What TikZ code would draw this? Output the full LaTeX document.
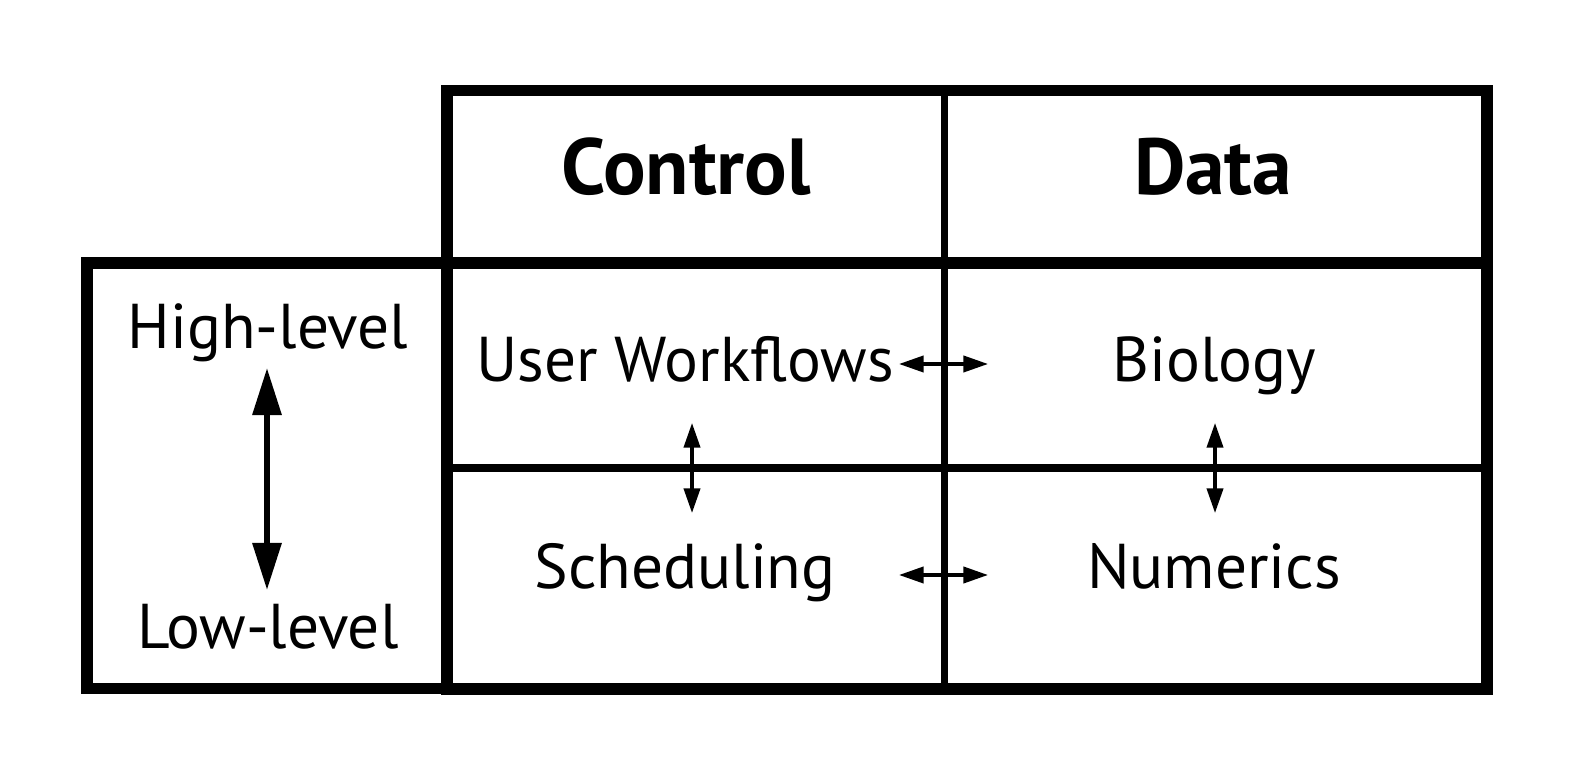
\documentclass[tikz,border=0pt]{standalone}
\usepackage{fontspec}
\setmainfont{PT Sans}
\usetikzlibrary{arrows.meta}
\tikzset{
  frameline/.style={line width=3.27pt},
  gridline/.style={line width=2pt},
  headtext/.style={anchor=base, inner sep=0pt, font=\fontsize{22.6pt}{24pt}\selectfont\bfseries},
  celltext/.style={anchor=base, inner sep=0pt, font=\fontsize{18pt}{20pt}\selectfont},
  bigarrow/.style={line width=1.7pt, {Triangle[length=13.4pt,width=8pt]}-{Triangle[length=13.4pt,width=8pt]}},
  smallarrow/.style={line width=0.95pt, {Triangle[length=7pt,width=4.6pt]}-{Triangle[length=7pt,width=4.6pt]}}
}
\begin{document}
\begin{tikzpicture}[x=0.01cm, y=-0.01cm]
			%%%%% START %%%%%
			\useasboundingbox (0, 0) rectangle (1583, 783);
			
			% frames
			\draw[frameline] (87, 263) rectangle (447, 688.5);
			\draw[frameline] (447, 90.5) rectangle (1487, 689);
			\draw[frameline] (447, 263) -- (1487, 263);
			\draw[gridline] (944.5, 90.5) -- (944.5, 689);
			\draw[gridline] (447, 468) -- (1487, 468);
			
			% headers
			\node[headtext] (control) at (686, 195) {Control};
			\node[headtext] (data) at (1213, 195) {Data};
			
			% levels
			\node[celltext] (high) at (268, 349) {High-level};
			\node[celltext] (low) at (268, 648) {Low-level};
			\coordinate (highend) at (267, 368);
			\coordinate (lowend) at (267, 590);
			\draw[bigarrow] (highend) -- (lowend);
			
			% cells
			\node[celltext] (workflows) at (685, 382) {User Workflows};
			\node[celltext] (biology) at (1214, 382) {Biology};
			\node[celltext] (scheduling) at (685, 589) {Scheduling};
			\node[celltext] (numerics) at (1214, 589) {Numerics};
			
			\coordinate (wfright) at (899, 364);
			\coordinate (bioleft) at (988, 364);
			\coordinate (schright) at (899, 575);
			\coordinate (numleft) at (988, 575);
			\coordinate (wfbelow) at (692, 423);
			\coordinate (schabove) at (692, 513);
			\coordinate (biobelow) at (1215, 423);
			\coordinate (numabove) at (1215, 513);
			
			\draw[smallarrow] (wfright) -- (bioleft);
			\draw[smallarrow] (schright) -- (numleft);
			\draw[smallarrow] (wfbelow) -- (schabove);
			\draw[smallarrow] (biobelow) -- (numabove);
			
			%%%%% END %%%%%
\end{tikzpicture}
\end{document}
